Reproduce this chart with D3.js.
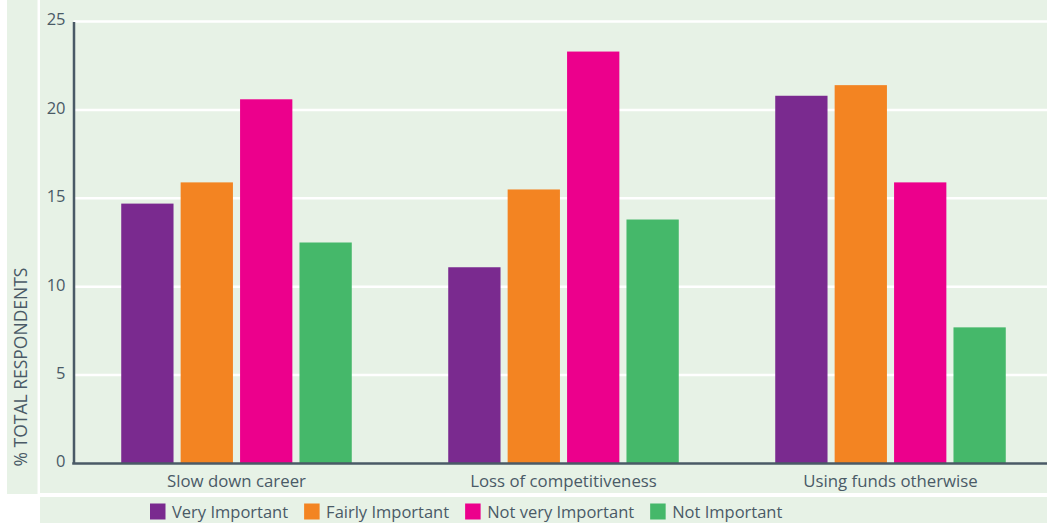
<!DOCTYPE html>
<html>
<head>
<meta charset="utf-8">
<script src="https://cdn.jsdelivr.net/npm/d3@7"></script>
<style>
  html, body { margin: 0; padding: 0; background: #ffffff; }
  svg { display: block; }
  text { font-family: "Open Sans", "Noto Sans", sans-serif; fill: #4a5a66; }
</style>
</head>
<body>
<svg id="chart" width="1047" height="523"></svg>
<script>
// Reasons considered when deciding on funding, by importance rating
const categories = ["Slow down career", "Loss of competitiveness", "Using funds otherwise"];
const seriesNames = ["Very Important", "Fairly Important", "Not very Important", "Not Important"];
const seriesColors = ["#7a2a8f", "#f38422", "#ec008c", "#45b86a"];
const veryImportant = [14.7, 11.1, 20.8];
const fairlyImportant = [15.9, 15.5, 21.4];
const notVeryImportant = [20.6, 23.3, 15.9];
const notImportant = [12.5, 13.8, 7.7];
const yTicks = [0, 5, 10, 15, 20, 25];
const yTitle = "% TOTAL RESPONDENTS";

const seriesValues = [veryImportant, fairlyImportant, notVeryImportant, notImportant];

const W = 1047, H = 523;
const panelFill = "#e7f2e6";
const axisColor = "#4a5a66";

const svg = d3.select("#chart");

// Background panels: title strip, plot area, legend strip
svg.append("rect").attr("x", 7).attr("y", 0).attr("width", 30.5).attr("height", 494).attr("fill", panelFill);
svg.append("rect").attr("x", 40).attr("y", 0).attr("width", W - 40).attr("height", 493).attr("fill", panelFill);
svg.append("rect").attr("x", 40).attr("y", 497).attr("width", W - 40).attr("height", H - 497).attr("fill", panelFill);

const plotLeft = 73.5, plotRight = W;
const y = d3.scaleLinear().domain([0, 25]).range([463.5, 21.5]);

const x0 = d3.scaleBand()
  .domain(categories)
  .range([73, 1054])
  .paddingInner(0.295)
  .paddingOuter(0.1475);

const x1 = d3.scaleBand()
  .domain(seriesNames)
  .range([0, x0.bandwidth()])
  .paddingInner(0.12)
  .paddingOuter(0);

// Gridlines
svg.append("g")
  .selectAll("line")
  .data(yTicks.filter(d => d > 0))
  .join("line")
  .attr("x1", plotLeft).attr("x2", plotRight)
  .attr("y1", d => y(d)).attr("y2", d => y(d))
  .attr("stroke", "#ffffff").attr("stroke-width", 2.5);

// Bars
const groups = svg.append("g")
  .selectAll("g")
  .data(categories)
  .join("g")
  .attr("transform", d => `translate(${x0(d)},0)`);

groups.selectAll("rect")
  .data((c, ci) => seriesNames.map((s, si) => ({ s, si, v: seriesValues[si][ci] })))
  .join("rect")
  .attr("x", d => x1(d.s))
  .attr("width", x1.bandwidth())
  .attr("y", d => y(d.v))
  .attr("height", d => y(0) - y(d.v))
  .attr("fill", d => seriesColors[d.si]);

// Y axis
const yAxis = svg.append("g")
  .attr("transform", `translate(${plotLeft},0)`)
  .call(d3.axisLeft(y).tickValues(yTicks).tickSize(0).tickPadding(8));
yAxis.select(".domain").attr("stroke", axisColor).attr("stroke-width", 2.5);
yAxis.selectAll("text")
  .style("font-family", "'Open Sans', sans-serif")
  .style("font-size", "16.5px")
  .attr("fill", axisColor)
  .attr("dy", "0.2em");

// X axis baseline + category labels
const xAxis = svg.append("g")
  .attr("transform", `translate(0,${y(0)})`)
  .call(d3.axisBottom(x0).tickSize(0).tickPadding(12));
xAxis.select(".domain")
  .attr("d", `M${plotLeft - 1.25},0H${plotRight}`)
  .attr("stroke", axisColor).attr("stroke-width", 2.5);
xAxis.selectAll("text")
  .style("font-family", "'Open Sans', sans-serif")
  .style("font-size", "16.8px")
  .attr("fill", axisColor);

// Y axis title
svg.append("text")
  .attr("transform", `translate(27,${367}) rotate(-90)`)
  .attr("text-anchor", "middle")
  .style("font-size", "17.5px")
  .attr("fill", axisColor)
  .text(yTitle);

// Legend
const legend = svg.append("g");
let lx = 150;
seriesNames.forEach((name, i) => {
  const item = legend.append("g").attr("transform", `translate(${lx},0)`);
  item.append("rect")
    .attr("x", 0).attr("y", 503.5)
    .attr("width", 15.5).attr("height", 16)
    .attr("fill", seriesColors[i]);
  const t = item.append("text")
    .attr("x", 22).attr("y", 518)
    .style("font-size", "16.5px")
    .attr("fill", axisColor)
    .text(name);
  lx += 22 + t.node().getComputedTextLength() + 16;
});
</script>
</body>
</html>
